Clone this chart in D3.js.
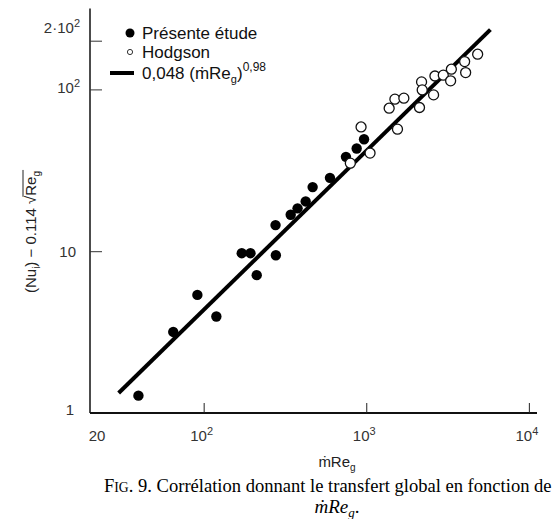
<!DOCTYPE html>
<html><head><meta charset="utf-8">
<script src="https://cdn.jsdelivr.net/npm/d3@7"></script>
<style>body{margin:0;background:#fff}</style>
</head><body>
<svg id="c" width="557" height="519"></svg>
<script>
// Présente étude (filled)
const presenteX = [39.7,65,91.5,119.7,171.5,194,212,278,276.7,343,378,424,468,598,750,873,969];
const presenteY = [1.28,3.17,5.37,3.95,9.72,9.72,7.11,9.44,14.5,16.8,18.4,20.3,24.9,28.4,38.3,43.1,49.2];
// Hodgson (open)
const hodgsonX = [929,798,1055,1556,1383,1500,1703,2125,2188,2208,2594,2644,2976,3337,3302,4027,4085,4842];
const hodgsonY = [58.6,35.0,40.4,56.8,76.5,87.0,88.3,77.3,111.3,99.3,92.5,121,122.4,133.3,113,148.6,127,165];
// correlation line endpoints 0,048 (mRe_g)^0,98
const fitX = [30, 5800];
const fitY = [1.33, 234];
const xTicks = [100, 1000, 10000];
const xTickLabels = ["10", "10", "10"];
const xTickExp = ["2", "3", "4"];
const yTicks = [10, 100, 200];

const svg = d3.select("#c");
const x = d3.scaleLog().domain([20, Math.pow(10, 4.05)]).range([90, 537]);
const y = d3.scaleLog().domain([1, Math.pow(10, 2.5)]).range([413, 8.5]);

// axes
const ax = svg.append("g").attr("stroke", "#111").attr("fill", "none");
ax.append("line").attr("x1", 90).attr("x2", 90).attr("y1", y.range()[1]).attr("y2", 413).attr("stroke-width", 1.5);
ax.append("line").attr("x1", 90).attr("x2", 537).attr("y1", 413).attr("y2", 413).attr("stroke-width", 1.8);

const xAxis = d3.axisTop(x).tickValues(xTicks).tickSize(10).tickFormat("");
svg.append("g").attr("transform", "translate(0,413)").call(xAxis)
  .call(g => g.select(".domain").remove())
  .call(g => g.selectAll(".tick line").attr("stroke", "#222"));
const yAxis = d3.axisRight(y).tickValues(yTicks).tickSize(12).tickFormat("");
svg.append("g").attr("transform", "translate(90,0)").call(yAxis)
  .call(g => g.select(".domain").remove())
  .call(g => g.selectAll(".tick line").attr("stroke", "#333"));

const tickFont = "Liberation Sans, Arial, sans-serif";
// x tick labels
const xl = svg.append("g").attr("font-family", tickFont).attr("fill", "#333").attr("font-size", 15);
xl.append("text").attr("x", x(20) + 7).attr("y", 441).attr("text-anchor", "middle").text("20");
xTicks.forEach((v, i) => {
  const t = xl.append("text").attr("x", x(v) - 2).attr("y", 441).attr("text-anchor", "middle");
  t.append("tspan").text(xTickLabels[i]);
  t.append("tspan").attr("dy", -6).attr("font-size", 11).text(xTickExp[i]);
});
// y tick labels
const yl = svg.append("g").attr("font-family", tickFont).attr("fill", "#333").attr("font-size", 15).attr("text-anchor", "end");
yl.append("text").attr("x", 74).attr("y", y(1) + 2).text("1");
yl.append("text").attr("x", 76).attr("y", y(10) + 6).text("10");
{
  const t = yl.append("text").attr("x", 80).attr("y", y(100) + 4);
  t.append("tspan").text("10");
  t.append("tspan").attr("dy", -6).attr("font-size", 11).text("2");
}
{
  const t = yl.append("text").attr("x", 80).attr("y", y(200) - 8);
  t.append("tspan").text("2·10");
  t.append("tspan").attr("dy", -6).attr("font-size", 11).text("2");
}

// fit line
const line = d3.line().x(d => x(d[0])).y(d => y(d[1]));
svg.append("path").datum(fitX.map((v, i) => [v, fitY[i]]))
  .attr("d", line).attr("fill", "none").attr("stroke", "#000").attr("stroke-width", 4);

// points
svg.append("g").selectAll("circle").data(presenteX.map((v, i) => [v, presenteY[i]])).join("circle")
  .attr("cx", d => x(d[0])).attr("cy", d => y(d[1])).attr("r", 5.2).attr("fill", "#000");
svg.append("g").selectAll("circle").data(hodgsonX.map((v, i) => [v, hodgsonY[i]])).join("circle")
  .attr("cx", d => x(d[0])).attr("cy", d => y(d[1])).attr("r", 5).attr("fill", "#fff")
  .attr("stroke", "#111").attr("stroke-width", 1.3);

// legend
const lg = svg.append("g").attr("font-family", tickFont).attr("font-size", 17).attr("fill", "#111");
lg.append("circle").attr("cx", 130).attr("cy", 33).attr("r", 4.5).attr("fill", "#000");
lg.append("text").attr("x", 142).attr("y", 39).text("Présente étude");
lg.append("circle").attr("cx", 130).attr("cy", 52).attr("r", 2.6).attr("fill", "#fff").attr("stroke", "#333").attr("stroke-width", 1);
lg.append("text").attr("x", 142).attr("y", 58).text("Hodgson");
lg.append("line").attr("x1", 110).attr("x2", 134).attr("y1", 73).attr("y2", 73).attr("stroke", "#000").attr("stroke-width", 4);
{
  const t = lg.append("text").attr("x", 142).attr("y", 79);
  t.append("tspan").text("0,048 (ṁRe");
  t.append("tspan").attr("dy", 4).attr("font-size", 11).text("g");
  t.append("tspan").attr("dy", -4).text(")");
  t.append("tspan").attr("dy", -8).attr("font-size", 12).text("0,98");
}

// y axis label
{
  const g = svg.append("g").attr("transform", "translate(36,232) rotate(-90)");
  const t = g.append("text").attr("text-anchor", "middle").attr("font-family", tickFont).attr("font-size", 15).attr("fill", "#222");
  t.append("tspan").text("(Nu");
  t.append("tspan").attr("dy", 4).attr("font-size", 10).text("i");
  t.append("tspan").attr("dy", -4).text(") − 0.114 √");
  t.append("tspan").attr("class", "re").text("Re");
  t.append("tspan").attr("dy", 4).attr("font-size", 10).text("g");
  const bb = t.node().getBBox();
  const reNode = t.select(".re").node();
  const start = reNode.getStartPositionOfChar(0).x;
  g.append("line").attr("x1", start - 1).attr("x2", bb.x + bb.width + 1).attr("y1", bb.y + 1).attr("y2", bb.y + 1)
    .attr("stroke", "#222").attr("stroke-width", 1);
}

// x axis label
{
  const t = svg.append("text").attr("x", 337).attr("y", 467).attr("text-anchor", "middle")
    .attr("font-family", tickFont).attr("font-size", 15).attr("fill", "#222");
  t.append("tspan").text("ṁRe");
  t.append("tspan").attr("dy", 4).attr("font-size", 10).text("g");
}

// caption
const cap = svg.append("g").attr("font-family", "Liberation Serif, Times New Roman, serif").attr("fill", "#000");
{
  const cg = cap.append("g");
  const t = cg.append("text").attr("x", 0).attr("y", 0).attr("font-size", 19);
  t.append("tspan").text("F");
  t.append("tspan").attr("font-size", 14).text("IG");
  t.append("tspan").attr("font-size", 19).text(". 9. Corrélation donnant le transfert global en fonction de");
  const w = t.node().getComputedTextLength();
  const s = Math.min(1, 448 / w);
  cg.attr("transform", `translate(104,492) scale(${s},1)`);
  const t2 = cap.append("text").attr("x", 337).attr("y", 513).attr("text-anchor", "middle").attr("font-size", 19).attr("font-style", "italic");
  t2.append("tspan").text("ṁRe");
  t2.append("tspan").attr("dy", 4).attr("font-size", 13).text("g");
  t2.append("tspan").attr("dy", -4).attr("font-style", "normal").text(".");
}
</script>
</body></html>
